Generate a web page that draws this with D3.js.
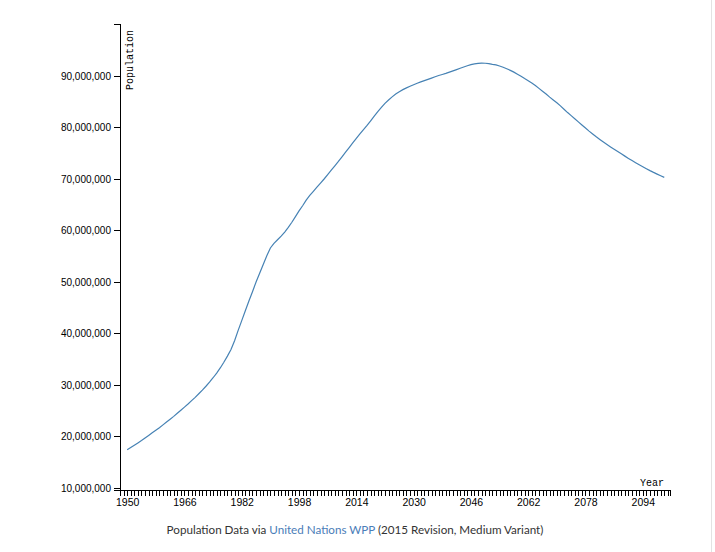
<!DOCTYPE html>
<html>
<head>
<meta charset="utf-8">
<script src="https://cdn.jsdelivr.net/npm/d3@7"></script>
<style>
  html, body { margin: 0; padding: 0; background: #fff; }
  svg { display: block; }
</style>
</head>
<body>
<svg id="chart" width="715" height="552"></svg>
<script>
// Years 1950..2100 (annual)
const startYear = 1950;
const populationMillions = [
  17.4, 17.85, 18.3, 18.75, 19.2, 19.7, 20.2, 20.7, 21.2, 21.7,          // 1950-1959
  22.25, 22.8, 23.35, 23.9, 24.5, 25.1, 25.7, 26.3, 26.95, 27.6,         // 1960-1969
  28.3, 29.0, 29.75, 30.55, 31.4, 32.3, 33.3, 34.4, 35.6, 36.9,          // 1970-1979
  38.6, 40.6, 42.5, 44.4, 46.3, 48.1, 50.0, 51.7, 53.4, 55.1,            // 1980-1989
  56.6, 57.5, 58.2, 58.9, 59.7, 60.6, 61.6, 62.7, 63.8, 64.8,            // 1990-1999
  65.9, 66.8, 67.6, 68.4, 69.2, 70.0, 70.85, 71.7, 72.55, 73.4,          // 2000-2009
  74.3, 75.2, 76.1, 77.0, 77.9, 78.75, 79.6, 80.4, 81.3, 82.2,           // 2010-2019
  83.1, 83.9, 84.7, 85.35, 85.95, 86.5, 86.95, 87.35, 87.7, 88.0,        // 2020-2029
  88.3, 88.6, 88.85, 89.1, 89.35, 89.6, 89.85, 90.1, 90.3, 90.5,         // 2030-2039
  90.75, 91.0, 91.25, 91.5, 91.75, 92.0, 92.2, 92.35, 92.45, 92.5,       // 2040-2049
  92.48, 92.4, 92.25, 92.15, 91.95, 91.7, 91.4, 91.1, 90.75, 90.35,      // 2050-2059
  89.95, 89.5, 89.1, 88.65, 88.15, 87.6, 87.05, 86.5, 85.9, 85.35,       // 2060-2069
  84.8, 84.2, 83.55, 82.9, 82.3, 81.7, 81.1, 80.5, 79.9, 79.3,           // 2070-2079
  78.75, 78.2, 77.68, 77.18, 76.7, 76.23, 75.78, 75.33, 74.88, 74.44,    // 2080-2089
  74.0, 73.58, 73.17, 72.77, 72.38, 72.0, 71.63, 71.28, 70.95, 70.63,    // 2090-2099
  70.32                                                                  // 2100
];
const yTickValues = [10e6, 20e6, 30e6, 40e6, 50e6, 60e6, 70e6, 80e6, 90e6];
const xLabelYears = [1950, 1966, 1982, 1998, 2014, 2030, 2046, 2062, 2078, 2094];
const xDomain = [1948, 2101.6];
const yDomain = [9.6e6, 100.1e6];

const data = populationMillions.map((v, i) => ({ year: startYear + i, pop: v * 1e6 }));

const svg = d3.select("#chart");
const plotLeft = 120, plotRight = 670, plotTop = 24, plotBottom = 490;

const x = d3.scaleLinear().domain(xDomain).range([plotLeft, plotRight]);
const y = d3.scaleLinear().domain(yDomain).range([plotBottom, plotTop]);

const allYears = d3.range(1948, 2102);
const xAxis = d3.axisBottom(x)
  .tickValues(allYears)
  .tickFormat(d => xLabelYears.includes(d) ? String(d) : "")
  .tickSize(6).tickPadding(3);

const yAxis = d3.axisLeft(y)
  .tickValues(yTickValues)
  .tickFormat(d3.format(","))
  .tickSize(6).tickPadding(3);

const gx = svg.append("g")
  .attr("transform", `translate(0,${plotBottom})`)
  .call(xAxis);
gx.selectAll("text").attr("font-family", "'Liberation Sans', Arial, sans-serif").attr("font-size", 10.5).attr("fill", "#000");
gx.selectAll("line, path").attr("stroke", "#000").attr("shape-rendering", "crispEdges");

gx.append("text")
  .attr("x", 664).attr("y", -4)
  .attr("text-anchor", "end")
  .attr("font-family", "'Liberation Mono', monospace")
  .attr("font-size", 10)
  .attr("fill", "#000")
  .text("Year");

const gy = svg.append("g")
  .attr("transform", `translate(${plotLeft},0)`)
  .call(yAxis);
gy.selectAll("text").attr("font-family", "'Liberation Sans', Arial, sans-serif").attr("font-size", 10).attr("fill", "#000");
gy.selectAll("line, path").attr("stroke", "#000").attr("shape-rendering", "crispEdges");

gy.append("text")
  .attr("transform", "rotate(-90)")
  .attr("x", -(plotTop + 6))
  .attr("y", 6)
  .attr("dy", ".71em")
  .attr("text-anchor", "end")
  .attr("font-family", "'Liberation Mono', monospace")
  .attr("font-size", 10)
  .attr("fill", "#000")
  .text("Population");

const line = d3.line()
  .x(d => x(d.year))
  .y(d => y(d.pop));

svg.append("path")
  .datum(data)
  .attr("fill", "none")
  .attr("stroke", "steelblue")
  .attr("stroke-width", 1.2)
  .attr("d", line);

// caption
const cap = svg.append("text")
  .attr("x", 355).attr("y", 534)
  .attr("text-anchor", "middle")
  .attr("font-family", "Lato, 'Open Sans', sans-serif")
  .attr("font-size", 11.65)
  .attr("fill", "#333");
cap.append("tspan").text("Population Data via ");
cap.append("tspan").attr("fill", "#4a7db8").text("United Nations WPP");
cap.append("tspan").text(" (2015 Revision, Medium Variant)");

// right edge border
svg.append("line")
  .attr("x1", 711.5).attr("x2", 711.5).attr("y1", 0).attr("y2", 552)
  .attr("stroke", "#e3e3e3");
</script>
</body>
</html>
